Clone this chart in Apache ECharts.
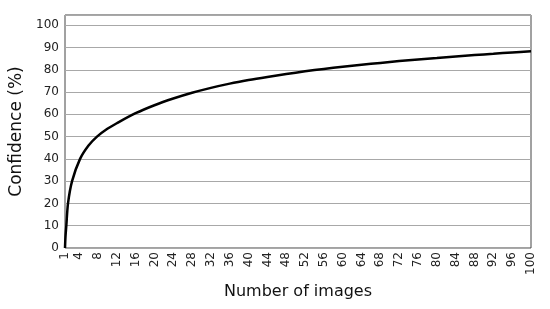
<!DOCTYPE html>
<html lang="en">
    <head>
        <meta charset="utf-8">
        <title>Confidence vs number of images</title>
        <script src="https://cdn.jsdelivr.net/npm/echarts@6/dist/echarts.min.js"></script>
        <style>
            html, body { margin: 0; padding: 0; background: #fff; }
            .chart_main { width: 550px; height: 309px; }
        </style>
    </head>
    <body>
        <div class="chart_main"></div>
    </body>
</html>

<script type="text/javascript">
    // values
    let imageCounts = [1, 1.1, 1.28, 1.64, 2.5, 4.2, 6, 7.8, 10, 12, 16, 20, 24, 28, 32, 36, 40, 44, 48, 52, 56, 60, 64, 68, 72, 76, 80, 84, 88, 92, 96, 100];
    let confidenceValues = [0, 5, 10, 20, 30, 40, 46, 50, 53.5, 56, 60.5, 64.1, 67.1, 69.7, 71.9, 73.8, 75.4, 76.8, 78.1, 79.3, 80.4, 81.4, 82.3, 83.1, 83.9, 84.6, 85.3, 86, 86.6, 87.2, 87.8, 88.3];
    let xLabelValues = [1, 4, 8, 12, 16, 20, 24, 28, 32, 36, 40, 44, 48, 52, 56, 60, 64, 68, 72, 76, 80, 84, 88, 92, 96, 100];

    let seriesData = [];
    imageCounts.forEach((n, i) => {
        seriesData.push([n, confidenceValues[i]]);
    });

    let Chart = echarts.init(document.getElementsByClassName('chart_main')[0]);

    let fontName = 'DejaVu Sans';

    let option = {
        animation: false,
        backgroundColor: '#fff',
        grid: {
            left: 63,
            right: 19,
            top: 15,
            bottom: 61,
            show: true,
            borderColor: '#444',
            borderWidth: 1
        },
        xAxis: {
            type: 'value',
            min: 1,
            max: 100,
            interval: 1,
            name: 'Number of images',
            nameLocation: 'middle',
            nameGap: 36,
            nameTextStyle: { fontFamily: fontName, fontSize: 16, color: '#111' },
            axisLine: { show: false },
            axisTick: { show: false },
            splitLine: { show: false },
            axisLabel: {
                rotate: 90,
                margin: 4,
                fontFamily: fontName,
                fontSize: 12,
                color: '#222',
                formatter: function (v) {
                    return xLabelValues.indexOf(v) >= 0 ? String(v) : '';
                }
            }
        },
        yAxis: {
            type: 'value',
            min: 0,
            max: 104.6,
            interval: 10,
            name: 'Confidence (%)',
            nameLocation: 'middle',
            nameGap: 40,
            nameTextStyle: { fontFamily: fontName, fontSize: 17, color: '#111' },
            axisLine: { show: false },
            axisTick: { show: false },
            axisLabel: {
                margin: 6,
                fontFamily: fontName,
                fontSize: 12,
                color: '#222',
                formatter: function (v) {
                    return v % 10 === 0 ? String(v) : '';
                }
            },
            splitLine: {
                lineStyle: { color: '#a8a8a8', width: 1 }
            }
        },
        series: [
            {
                name: 'Confidence',
                type: 'line',
                data: seriesData,
                smooth: 0.3,
                showSymbol: false,
                lineStyle: { color: '#000', width: 2.5 }
            }
        ]
    };

    Chart.setOption(option);
</script>
